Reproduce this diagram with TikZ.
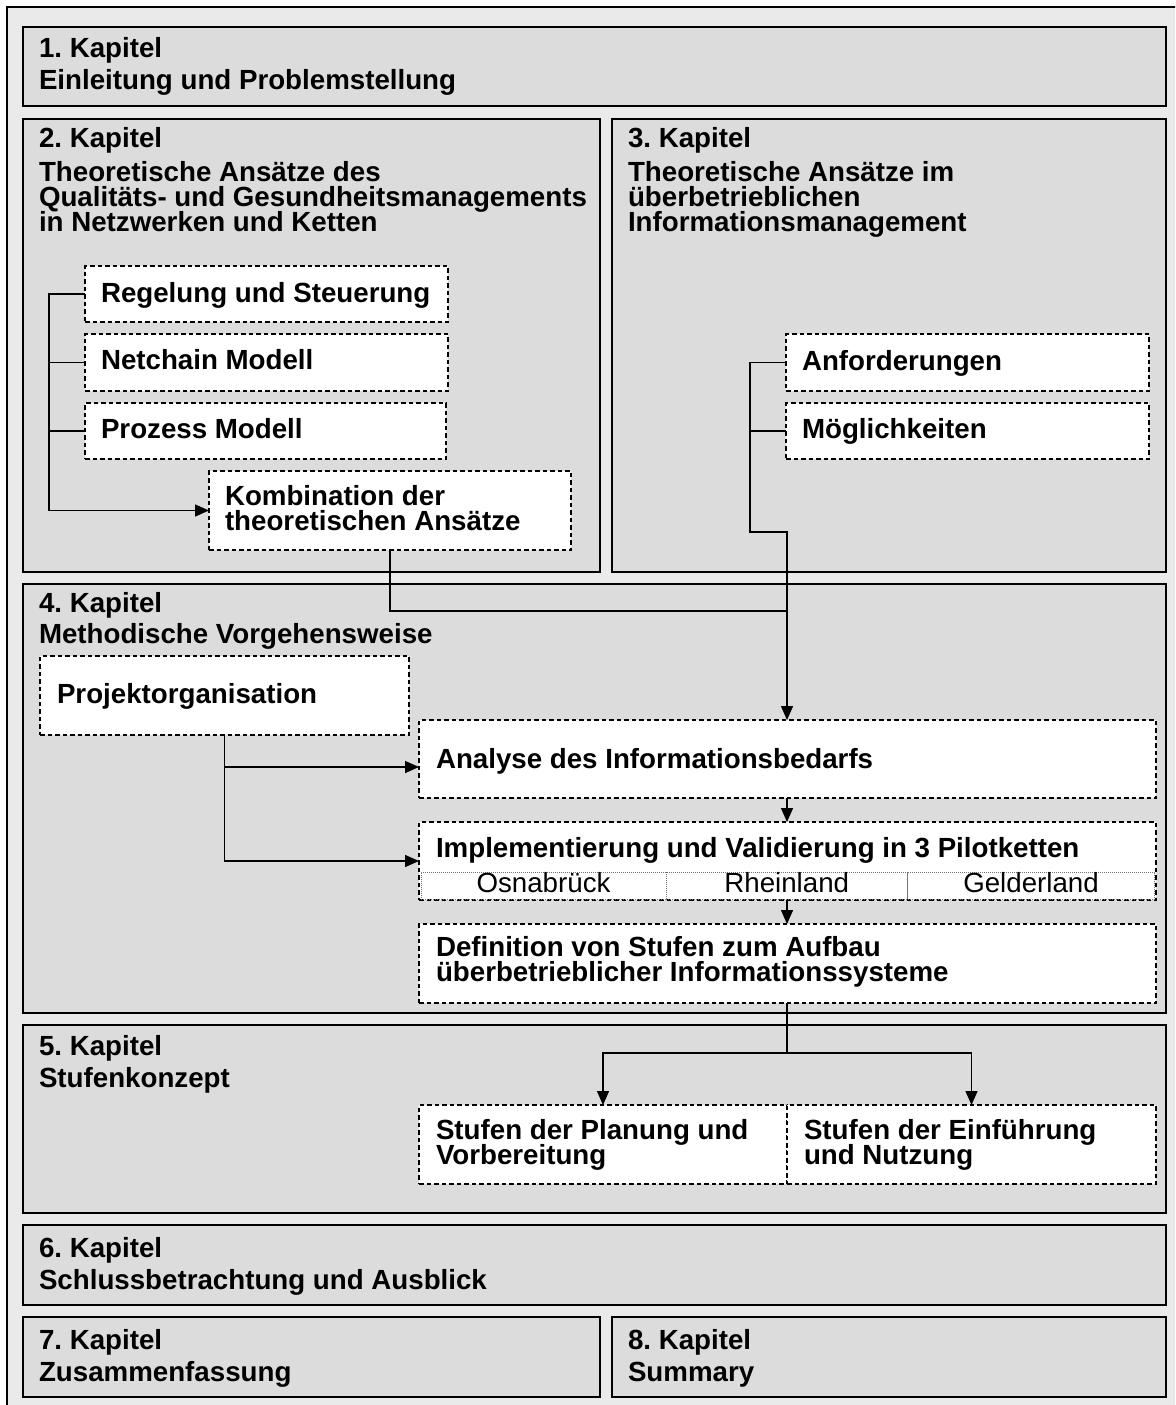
\documentclass[tikz,border=0pt]{standalone}
\usepackage{fontspec}
\setmainfont{Liberation Sans}
\usetikzlibrary{arrows.meta}
\definecolor{outerbg}{gray}{0.918}
\definecolor{boxbg}{gray}{0.863}
\definecolor{celldot}{gray}{0.45}
\frenchspacing
\begin{document}
\frenchspacing
\begin{tikzpicture}[x=1pt,y=-1pt,
  chap/.style={draw=black, fill=boxbg, line width=1.6pt, inner sep=0pt, outer sep=0pt, anchor=north west},
  dbox/.style={draw=black, fill=white, line width=1.2pt, dash pattern=on 4.5pt off 3pt, inner sep=0pt, outer sep=0pt, anchor=north west},
  cellbox/.style={draw=celldot, fill=white, line width=0.8pt, dash pattern=on 1pt off 1pt, inner sep=0pt, outer sep=0pt, anchor=north west,
     font=\fontsize{27.7pt}{30pt}\selectfont, text height=20pt, text depth=7pt},
  ttl/.style={anchor=base west, inner sep=0pt, outer sep=0pt, font=\bfseries\fontsize{27.7pt}{30pt}\selectfont},
  conn/.style={draw=black, line width=1.4pt},
  arr/.style={conn, -{Triangle[length=14pt,width=12pt]}}
]
\clip (0,0) rectangle (1175,1405);
\fill[white] (0,0) rectangle (1175,1405);
\draw[fill=outerbg, line width=1.4pt] (7,7) rectangle (1190,1420);

% chapter boxes
\node[chap, minimum width=1143pt, minimum height=79pt] (k1) at (23,27) {};
\node[chap, minimum width=577pt, minimum height=453pt] (k2) at (23,119) {};
\node[chap, minimum width=554pt, minimum height=453pt] (k3) at (612,119) {};
\node[chap, minimum width=1143pt, minimum height=429pt] (k4) at (23,584) {};
\node[chap, minimum width=1143pt, minimum height=188pt] (k5) at (23,1025) {};
\node[chap, minimum width=1143pt, minimum height=80pt] (k6) at (23,1225) {};
\node[chap, minimum width=577pt, minimum height=80pt] (k7) at (23,1317) {};
\node[chap, minimum width=554pt, minimum height=80pt] (k8) at (612,1317) {};

% dashed boxes
\node[dbox, minimum width=363pt, minimum height=56pt] (r1) at (85,266) {};
\node[dbox, minimum width=363pt, minimum height=57pt] (r2) at (85,334) {};
\node[dbox, minimum width=361pt, minimum height=56pt] (r3) at (85,403) {};
\node[dbox, minimum width=362pt, minimum height=79pt] (r4) at (209,471) {};
\node[dbox, minimum width=363pt, minimum height=57pt] (a1) at (786,334) {};
\node[dbox, minimum width=363pt, minimum height=56pt] (a2) at (786,403) {};
\node[dbox, minimum width=369pt, minimum height=79pt] (po) at (40,656) {};
\node[dbox, minimum width=737pt, minimum height=78pt] (an) at (419,720) {};
\node[dbox, minimum width=737pt, minimum height=78pt] (im) at (419,822) {};
\node[dbox, minimum width=737pt, minimum height=79pt] (de) at (419,924) {};
\node[dbox, minimum width=368pt, minimum height=79pt] (s1) at (419,1105) {};
\node[dbox, minimum width=369pt, minimum height=79pt] (s2) at (787,1105) {};

% pilot cells
\node[cellbox, minimum width=245pt, minimum height=27pt] (c1) at (421,872) {Osnabrück};
\node[cellbox, minimum width=241.5pt, minimum height=27pt] (c2) at (666,872) {Rheinland};
\node[cellbox, minimum width=247pt, minimum height=27pt] (c3) at (907.5,872) {Gelderland};

% connectors
\coordinate (j1) at (787,532);
\coordinate (j2) at (787,611);
\coordinate (j3) at (787,1053);
\draw[arr] (r1.west) -- ++(-36,0) |- (r4.west);
\draw[conn] (r2.west) -- ++(-36,0);
\draw[conn] (r3.west) -- ++(-36,0);
\draw[arr] (a1.west) -- ++(-36,0) |- (j1) -- (an.north -| j1);
\draw[conn] (a2.west) -- ++(-36,0);
\draw[conn] (r4.south) |- (j2);
\draw[arr] (po.south) |- ([yshift=-8pt]an.west);
\draw[arr] (po.south) |- (im.west);
\draw[arr] (an.south -| j1) -- (im.north -| j1);
\draw[arr] (im.south -| j1) -- (de.north -| j1);
\draw[conn] (de.south -| j1) -- (j3);
\draw[arr] (j3) -| (s1.north);
\draw[arr] (j3) -| (s2.north);

% texts
\node[ttl] (t1a) at (39,58) {1. Kapitel};
\node[ttl] (t1b) at (39,89) {Einleitung und Problemstellung};
\node[ttl] (t2a) at (39,147) {2. Kapitel};
\node[ttl] (t2b) at (39,181) {Theoretische Ansätze des};
\node[ttl] (t2c) at (39,206) {Qualitäts- und Gesundheitsmanagements};
\node[ttl] (t2d) at (39,231) {in Netzwerken und Ketten};
\node[ttl] (t3a) at (628,147) {3. Kapitel};
\node[ttl] (t3b) at (628,181) {Theoretische Ansätze im};
\node[ttl] (t3c) at (628,206) {überbetrieblichen};
\node[ttl] (t3d) at (628,231) {Informationsmanagement};
\node[ttl] (tr1) at (101,302) {Regelung und Steuerung};
\node[ttl] (tr2) at (101,369) {Netchain Modell};
\node[ttl] (tr3) at (101,438) {Prozess Modell};
\node[ttl] (tr4a) at (225,505) {Kombination der};
\node[ttl] (tr4b) at (225,530) {theoretischen Ansätze};
\node[ttl] (ta1) at (802,370) {Anforderungen};
\node[ttl] (ta2) at (802,438) {Möglichkeiten};
\node[ttl] (t4a) at (39,612) {4. Kapitel};
\node[ttl] (t4b) at (39,643) {Methodische Vorgehensweise};
\node[ttl] (tpo) at (57,703) {Projektorganisation};
\node[ttl] (tan) at (436,768) {Analyse des Informationsbedarfs};
\node[ttl] (tim) at (436,857) {Implementierung und Validierung in 3 Pilotketten};
\node[ttl] (tdea) at (436,956) {Definition von Stufen zum Aufbau};
\node[ttl] (tdeb) at (436,981) {überbetrieblicher Informationssysteme};
\node[ttl] (t5a) at (39,1055) {5. Kapitel};
\node[ttl] (t5b) at (39,1087) {Stufenkonzept};
\node[ttl] (ts1a) at (436,1139) {Stufen der Planung und};
\node[ttl] (ts1b) at (436,1164) {Vorbereitung};
\node[ttl] (ts2a) at (804,1139) {Stufen der Einführung};
\node[ttl] (ts2b) at (804,1164) {und Nutzung};
\node[ttl] (t6a) at (39,1257) {6. Kapitel};
\node[ttl] (t6b) at (39,1289) {Schlussbetrachtung und Ausblick};
\node[ttl] (t7a) at (39,1349) {7. Kapitel};
\node[ttl] (t7b) at (39,1381) {Zusammenfassung};
\node[ttl] (t8a) at (628,1349) {8. Kapitel};
\node[ttl] (t8b) at (628,1381) {Summary};
\end{tikzpicture}
\end{document}
